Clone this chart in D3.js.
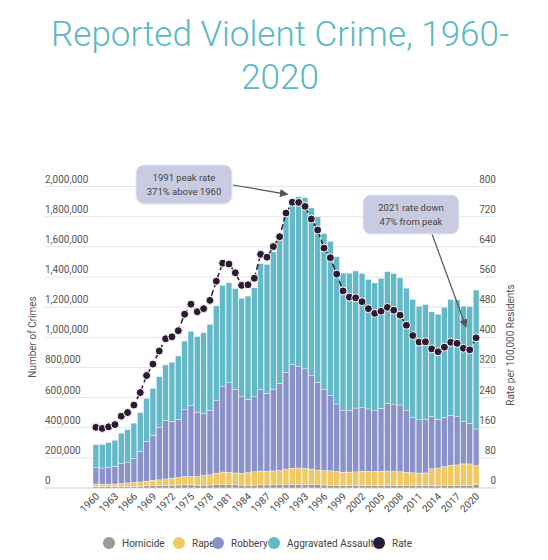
<!DOCTYPE html>
<html><head><meta charset="utf-8">
<script src="https://cdn.jsdelivr.net/npm/d3@7"></script>
<style>body{margin:0;background:#fff;font-family:Roboto,"Open Sans",sans-serif}</style>
</head><body><svg id="chart" width="548" height="560"></svg>
<script>
var years = d3.range(1960, 2021);
var homicide = [9110,8740,8530,8640,9360,9960,11040,12240,13800,14760,16000,17780,18670,19640,20710,20510,18780,19120,19560,21460,23040,22520,21010,19308,18692,18976,20613,20096,20675,21500,23438,24703,23760,24526,23326,21606,19645,18208,16974,15522,15586,16037,16229,16528,16148,16740,17309,17128,16465,15399,14722,14661,14866,14319,14164,15883,17413,17294,16374,16425,21570];
var rape = [17190,17220,17550,17650,21420,23410,25820,27620,31670,37170,37990,42260,46850,51400,55400,56090,57080,63500,67610,76390,82990,82500,78770,78918,84233,88669,91459,91111,92486,94504,102555,106593,109062,106014,102216,97470,96252,96153,93144,89411,90178,90863,95235,93883,95089,94347,94472,92160,90750,89241,85593,84175,85141,113695,118027,126134,132414,135755,143765,143224,126430];
var robbery = [107840,106670,110860,116470,130390,138690,157990,202910,262840,298850,349860,387700,376290,384220,442400,470500,427810,412610,426930,480700,565840,592910,553130,506567,485008,497874,542775,517704,542968,578326,639271,687732,672478,659870,618949,580509,535594,498534,447186,409371,408016,423557,420806,414235,401470,417438,449246,447324,443563,408742,369089,354396,355051,345031,322905,327374,332198,319356,282061,267988,243600];
var totalViolent = [288460,289390,301510,316970,364220,387390,430180,499930,595010,661870,738820,816500,834900,875910,974720,1039710,1004210,1029580,1085550,1208030,1344520,1361820,1322390,1258087,1273282,1328800,1489169,1483999,1566221,1646037,1820127,1911767,1932274,1926017,1857670,1798792,1688540,1636096,1533887,1426044,1425486,1439480,1423677,1383676,1360088,1390745,1435123,1422970,1394461,1325896,1251248,1206005,1217057,1168298,1153022,1199310,1250162,1247917,1206836,1203808,1313105];
var rate = [160.9,158.1,162.3,168.2,190.6,200.2,220.0,253.2,298.4,328.7,363.5,396.0,401.0,417.4,461.1,487.8,467.8,475.9,497.8,548.9,596.6,594.3,571.1,537.7,539.2,556.6,620.1,612.5,640.6,666.9,729.6,758.2,757.7,747.1,713.6,684.5,636.6,611.0,567.6,523.0,506.5,504.5,494.4,475.8,463.2,469.0,479.3,471.8,458.6,431.9,404.5,387.1,387.8,369.1,361.6,373.7,386.6,383.8,370.8,366.7,398.5];
var leftTicks = [0,200000,400000,600000,800000,1000000,1200000,1400000,1600000,1800000,2000000];
var rightTicks = [0,80,160,240,320,400,480,560,640,720,800];
var seriesNames = ["Homicide","Rape","Robbery","Aggravated Assault","Rate"];
var colors = ["#999999","#f0c965","#8a92c9","#63b9c8","#2d1a33"];

var svg = d3.select("#chart");
var x = d3.scaleBand().domain(years).range([93, 479]).paddingInner(0.08);
var y = d3.scaleLinear().domain([0, 2000000]).range([488, 186.5]);
var y2 = d3.scaleLinear().domain([0, 800]).range([488, 186.5]);

svg.append("text").attr("x", 280).attr("y", 46).attr("text-anchor", "middle")
	.attr("font-size", 35).attr("font-weight", 300).attr("fill", "#5bb8c4").text("Reported Violent Crime, 1960-");
svg.append("text").attr("x", 280).attr("y", 89).attr("text-anchor", "middle")
	.attr("font-size", 35).attr("font-weight", 300).attr("fill", "#5bb8c4").text("2020");

// grid + axis labels
svg.selectAll(".grid").data(leftTicks).enter().append("line")
	.attr("x1", 45).attr("x2", 496).attr("y1", d => y(d)).attr("y2", d => y(d))
	.attr("stroke", d => d == 0 ? "#ccc" : "#e6e6e6");
svg.selectAll(".ll").data(leftTicks).enter().append("text")
	.attr("x", 45).attr("y", d => y(d) - 4).attr("font-size", 10).attr("fill", "#555")
	.text(d => d3.format(",")(d));
svg.selectAll(".rl").data(rightTicks).enter().append("text")
	.attr("x", 496).attr("y", d => y2(d) - 4).attr("text-anchor", "end").attr("font-size", 10).attr("fill", "#555")
	.text(d => d);
svg.append("text").attr("transform", "translate(36,337) rotate(-90)").attr("text-anchor", "middle")
	.attr("font-size", 10).attr("fill", "#555").text("Number of Crimes");
svg.append("text").attr("transform", "translate(514,345) rotate(-90)").attr("text-anchor", "middle")
	.attr("font-size", 10).attr("fill", "#555").text("Rate per 100,000 Residents");

// stacked bars
var rows = years.map(function(yr, i) {
	return {year: yr, Homicide: homicide[i], Rape: rape[i], Robbery: robbery[i],
		"Aggravated Assault": totalViolent[i] - homicide[i] - rape[i] - robbery[i]};
});
var stack = d3.stack().keys(seriesNames.slice(0, 4))(rows);
svg.selectAll(".layer").data(stack).enter().append("g")
	.attr("fill", (d, i) => colors[i])
	.selectAll("rect").data(d => d).enter().append("rect")
	.attr("x", d => x(d.data.year)).attr("width", x.bandwidth())
	.attr("y", d => y(d[1])).attr("height", d => y(d[0]) - y(d[1]))
	.attr("stroke", "#fff").attr("stroke-width", 0.4);

// rate line
var line = d3.line().x((d, i) => x(years[i]) + x.bandwidth() / 2).y(d => y2(d));
svg.append("path").datum(rate).attr("d", line).attr("fill", "none")
	.attr("stroke", colors[4]).attr("stroke-width", 1.5).attr("stroke-dasharray", "6,3");
svg.selectAll(".dot").data(rate).enter().append("circle")
	.attr("cx", (d, i) => x(years[i]) + x.bandwidth() / 2).attr("cy", d => y2(d)).attr("r", 4)
	.attr("fill", colors[4]).attr("stroke", "#fff").attr("stroke-width", 1);

// x axis labels
svg.selectAll(".xl").data(years.filter(d => (d - 1960) % 3 == 0)).enter().append("text")
	.attr("transform", d => "translate(" + (x(d) + x.bandwidth() / 2 + 4) + ",497) rotate(-45)")
	.attr("text-anchor", "end").attr("font-size", 10).attr("fill", "#444").text(d => d);

// annotations
svg.append("defs").append("marker").attr("id", "arr").attr("viewBox", "0 0 10 10")
	.attr("refX", 9).attr("refY", 5).attr("markerWidth", 7).attr("markerHeight", 7).attr("orient", "auto")
	.append("path").attr("d", "M0,0L10,5L0,10z").attr("fill", "#555");
function note(bx, by, lines, tx, ty, sx, sy) {
	svg.append("line").attr("x1", sx).attr("y1", sy).attr("x2", tx).attr("y2", ty)
		.attr("stroke", "#555").attr("stroke-width", 1.2).attr("marker-end", "url(#arr)");
	svg.append("rect").attr("x", bx).attr("y", by).attr("width", 96).attr("height", 39).attr("rx", 8)
		.attr("fill", "#c9cbe2").attr("stroke", "#e8e8f2");
	lines.forEach(function(t, k) {
		svg.append("text").attr("x", bx + 48).attr("y", by + 16 + k * 14).attr("text-anchor", "middle")
			.attr("font-size", 9.5).attr("fill", "#444").text(t);
	});
}
note(136, 165, ["1991 peak rate", "371% above 1960"], x(1991) - 2, y2(758) - 8, 233, 185);
note(363, 195, ["2021 rate down", "47% from peak"], 466, 327, 432, 234);

// legend
var lx = [109, 179, 218, 274, 379];
seriesNames.forEach(function(n, i) {
	svg.append("circle").attr("cx", lx[i]).attr("cy", 543).attr("r", 6).attr("fill", colors[i]);
	svg.append("text").attr("x", lx[i] + 13).attr("y", 547).attr("font-size", 10).attr("fill", "#444").text(n);
});
</script></body></html>
